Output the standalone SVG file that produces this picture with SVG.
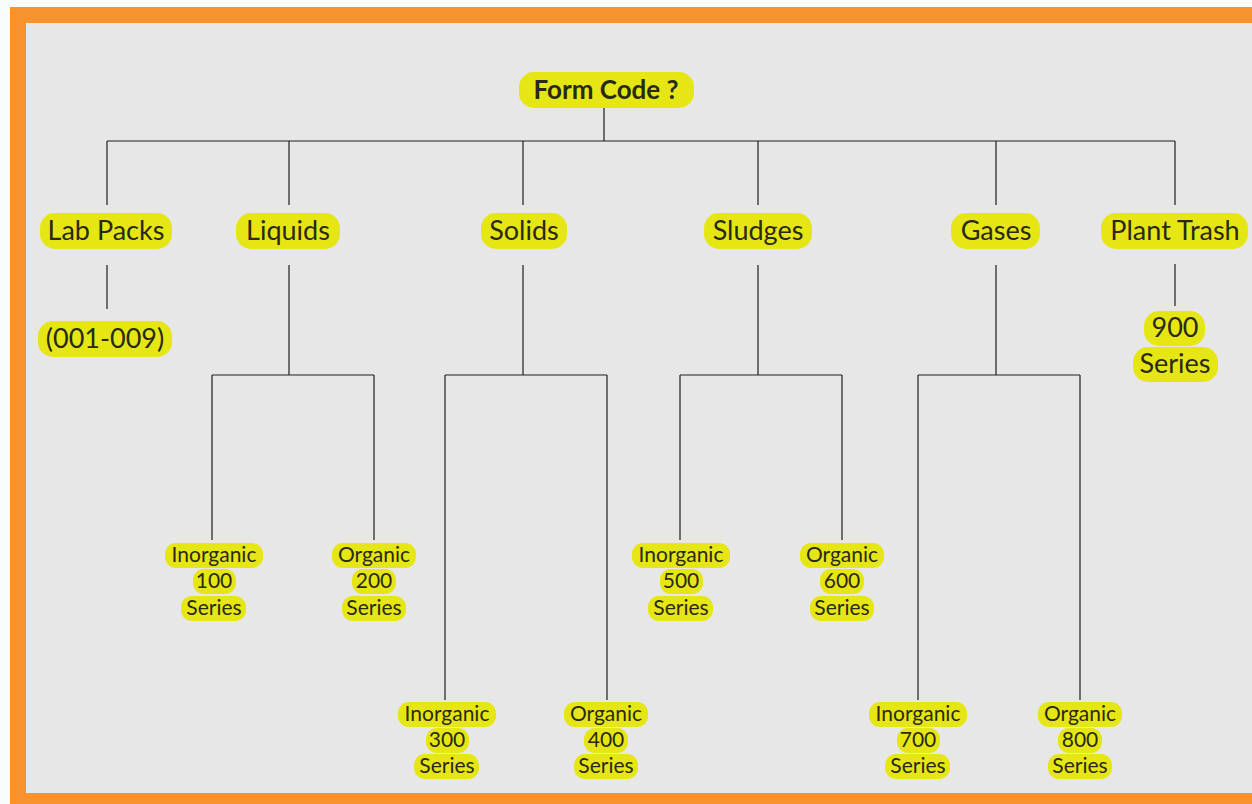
<svg xmlns="http://www.w3.org/2000/svg" width="1252" height="804" viewBox="0 0 1252 804">
<style>
.pill{fill:#e6e614}
.t1{font-family:Lato,"Open Sans","Liberation Sans",sans-serif;font-size:27px;fill:#2a2a14;text-anchor:middle}
.t0{font-family:Lato,"Open Sans","Liberation Sans",sans-serif;font-size:26px;font-weight:bold;fill:#2a2a14;text-anchor:middle}
.t2{font-family:Lato,"Open Sans","Liberation Sans",sans-serif;font-size:21px;fill:#2a2a14;text-anchor:middle}
.ln{stroke:#1e1e1e;stroke-width:1.2;fill:none}
</style>
<rect x="0" y="0" width="1252" height="804" fill="#f8fcfc"/>
<rect x="10" y="7" width="1242" height="797" fill="#f7922d"/>
<rect x="26" y="23" width="1226" height="770" fill="#e7e7e7"/>
<g id="connectors" class="ln">
<path d="M604 108V141M107 141H1175M107 141V205M289 141V205M523 141V205M758 141V205M996 141V205M1175 141V205"/>
<path d="M107 265V309M1175 264V306"/>
<path d="M289 265V375M212 375H374M212 375V540M374 375V540"/>
<path d="M523 265V375M445 375H607M445 375V700M607 375V700"/>
<path d="M758 265V375M680 375H842M680 375V540M842 375V540"/>
<path d="M996 265V375M918 375H1080M918 375V700M1080 375V700"/>
</g>
<g id="form-code"><rect class="pill" x="519" y="72" width="175" height="36" rx="15"/><text class="t0" x="606" y="99">Form Code ?</text></g>
<g id="lab-packs"><rect class="pill" x="40" y="213" width="132" height="36" rx="15"/><text class="t1" x="106" y="240">Lab Packs</text></g>
<g id="liquids"><rect class="pill" x="236" y="213" width="104" height="36" rx="15"/><text class="t1" x="288" y="240">Liquids</text></g>
<g id="solids"><rect class="pill" x="481" y="213" width="86" height="36" rx="15"/><text class="t1" x="524" y="240">Solids</text></g>
<g id="sludges"><rect class="pill" x="704" y="213" width="108" height="36" rx="15"/><text class="t1" x="758" y="240">Sludges</text></g>
<g id="gases"><rect class="pill" x="951" y="213" width="89" height="36" rx="15"/><text class="t1" x="996" y="240">Gases</text></g>
<g id="plant-trash"><rect class="pill" x="1101" y="213" width="147" height="36" rx="15"/><text class="t1" x="1175" y="240">Plant Trash</text></g>
<g id="lab-range"><rect class="pill" x="38" y="321" width="134" height="36" rx="15"/><text class="t1" x="105" y="348">(001-009)</text></g>
<g id="s900"><rect class="pill" x="1144" y="311" width="61" height="35" rx="15"/><text class="t1" x="1175" y="337">900</text><rect class="pill" x="1133" y="347" width="85" height="35" rx="15"/><text class="t1" x="1175" y="373">Series</text></g>
<g id="s100"><rect class="pill" x="165" y="543" width="98" height="25" rx="11"/><rect class="pill" x="193" y="569" width="43" height="25" rx="11"/><rect class="pill" x="181" y="596" width="65" height="25" rx="11"/><text class="t2" x="214" y="562">Inorganic</text><text class="t2" x="214" y="588">100</text><text class="t2" x="214" y="615">Series</text></g>
<g id="s200"><rect class="pill" x="332" y="543" width="84" height="25" rx="11"/><rect class="pill" x="352" y="569" width="44" height="25" rx="11"/><rect class="pill" x="342" y="596" width="64" height="25" rx="11"/><text class="t2" x="374" y="562">Organic</text><text class="t2" x="374" y="588">200</text><text class="t2" x="374" y="615">Series</text></g>
<g id="s300"><rect class="pill" x="398" y="702" width="98" height="25" rx="11"/><rect class="pill" x="426" y="728" width="43" height="25" rx="11"/><rect class="pill" x="414" y="754" width="65" height="25" rx="11"/><text class="t2" x="447" y="721">Inorganic</text><text class="t2" x="447" y="747">300</text><text class="t2" x="447" y="773">Series</text></g>
<g id="s400"><rect class="pill" x="564" y="702" width="84" height="25" rx="11"/><rect class="pill" x="584" y="728" width="44" height="25" rx="11"/><rect class="pill" x="574" y="754" width="64" height="25" rx="11"/><text class="t2" x="606" y="721">Organic</text><text class="t2" x="606" y="747">400</text><text class="t2" x="606" y="773">Series</text></g>
<g id="s500"><rect class="pill" x="632" y="543" width="98" height="25" rx="11"/><rect class="pill" x="660" y="569" width="43" height="25" rx="11"/><rect class="pill" x="648" y="596" width="65" height="25" rx="11"/><text class="t2" x="681" y="562">Inorganic</text><text class="t2" x="681" y="588">500</text><text class="t2" x="681" y="615">Series</text></g>
<g id="s600"><rect class="pill" x="800" y="543" width="84" height="25" rx="11"/><rect class="pill" x="820" y="569" width="44" height="25" rx="11"/><rect class="pill" x="810" y="596" width="64" height="25" rx="11"/><text class="t2" x="842" y="562">Organic</text><text class="t2" x="842" y="588">600</text><text class="t2" x="842" y="615">Series</text></g>
<g id="s700"><rect class="pill" x="869" y="702" width="98" height="25" rx="11"/><rect class="pill" x="897" y="728" width="43" height="25" rx="11"/><rect class="pill" x="885" y="754" width="65" height="25" rx="11"/><text class="t2" x="918" y="721">Inorganic</text><text class="t2" x="918" y="747">700</text><text class="t2" x="918" y="773">Series</text></g>
<g id="s800"><rect class="pill" x="1038" y="702" width="84" height="25" rx="11"/><rect class="pill" x="1058" y="728" width="44" height="25" rx="11"/><rect class="pill" x="1048" y="754" width="64" height="25" rx="11"/><text class="t2" x="1080" y="721">Organic</text><text class="t2" x="1080" y="747">800</text><text class="t2" x="1080" y="773">Series</text></g>
</svg>
